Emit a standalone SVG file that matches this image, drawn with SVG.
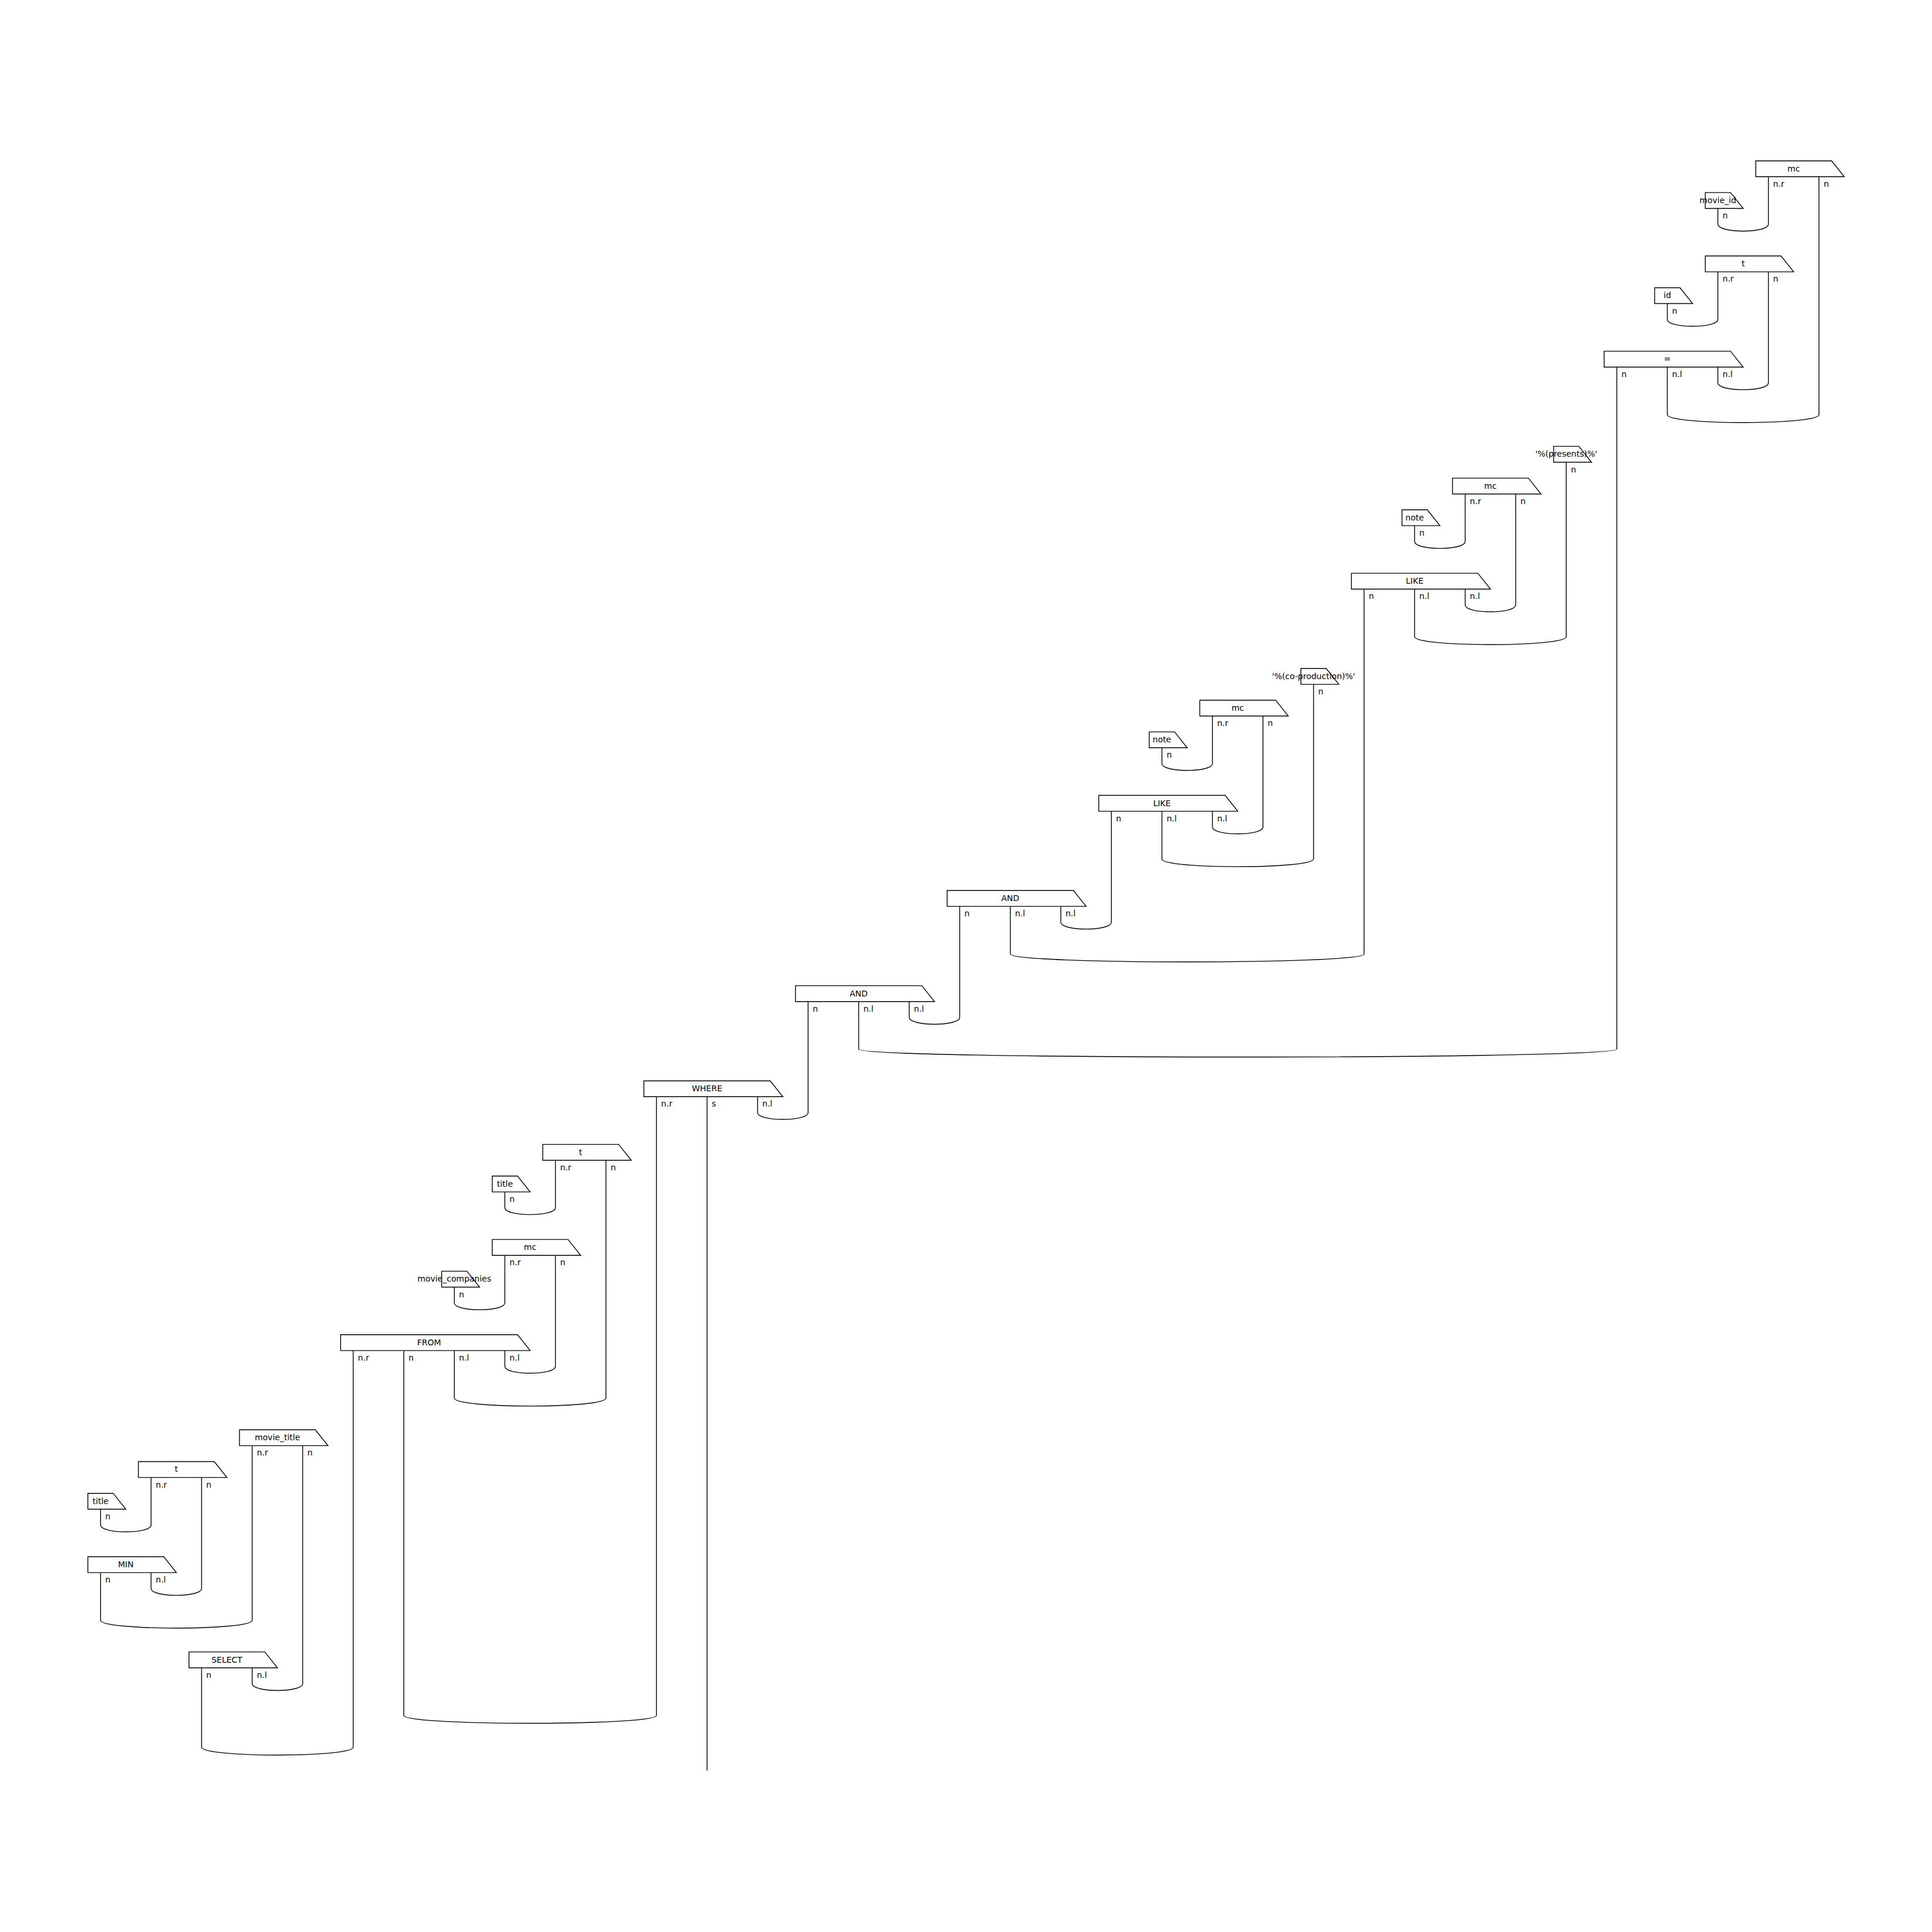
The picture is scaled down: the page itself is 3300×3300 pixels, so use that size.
<svg xmlns="http://www.w3.org/2000/svg" width="3300" height="3300" viewBox="0 0 3300 3300">
<style>
.bx{fill:#fff;stroke:#000;stroke-width:1.4}
.lbl{font-family:"DejaVu Sans",sans-serif;font-size:14px;text-anchor:middle;fill:#000}
.w{font-family:"DejaVu Sans",sans-serif;font-size:14px;fill:#000}
#wires path{fill:none;stroke:#000;stroke-width:1.4}
</style>
<defs>
<polygon id="b1" class="bx" points="-21.6,0 21.6,0 43.2,27.1 -21.6,27.1"/>
<polygon id="b2" class="bx" points="-21.6,0 107.93,0 129.53,27.1 -21.6,27.1"/>
<polygon id="b3" class="bx" points="-21.6,0 194.26,0 215.86,27.1 -21.6,27.1"/>
<polygon id="b4" class="bx" points="-21.6,0 280.59,0 302.19,27.1 -21.6,27.1"/>
</defs>
<rect width="3300" height="3300" fill="#fff"/>
<g id="wires">
<path d="M2934.26 355.99 V383.08 C2934.26 398.58 3020.59 398.58 3020.59 383.08 V301.80"/>
<path d="M2847.93 518.56 V545.65 C2847.93 561.15 2934.26 561.15 2934.26 545.65 V464.37"/>
<path d="M2934.26 626.94 V654.03 C2934.26 669.53 3020.59 669.53 3020.59 654.03 V464.37"/>
<path d="M2847.93 626.94 V708.22 C2847.93 726.22 3106.92 726.22 3106.92 708.22 V301.80"/>
<path d="M2416.28 897.89 V924.98 C2416.28 940.48 2502.61 940.48 2502.61 924.98 V843.70"/>
<path d="M2502.61 1006.27 V1033.36 C2502.61 1048.86 2588.94 1048.86 2588.94 1033.36 V843.70"/>
<path d="M2416.28 1006.27 V1087.55 C2416.28 1105.55 2675.27 1105.55 2675.27 1087.55 V789.51"/>
<path d="M1984.63 1277.22 V1304.31 C1984.63 1319.81 2070.96 1319.81 2070.96 1304.31 V1223.03"/>
<path d="M2070.96 1385.60 V1412.69 C2070.96 1428.19 2157.29 1428.19 2157.29 1412.69 V1223.03"/>
<path d="M1984.63 1385.60 V1466.88 C1984.63 1484.88 2243.62 1484.88 2243.62 1466.88 V1168.84"/>
<path d="M1811.97 1548.17 V1575.26 C1811.97 1590.76 1898.30 1590.76 1898.30 1575.26 V1385.60"/>
<path d="M1725.64 1548.17 V1629.45 C1725.64 1647.45 2329.95 1647.45 2329.95 1629.45 V1006.27"/>
<path d="M1552.98 1710.74 V1737.83 C1552.98 1753.33 1639.31 1753.33 1639.31 1737.83 V1548.17"/>
<path d="M1466.65 1710.74 V1792.02 C1466.65 1810.02 2761.60 1810.02 2761.60 1792.02 V626.94"/>
<path d="M1293.99 1873.31 V1900.40 C1293.99 1915.90 1380.32 1915.90 1380.32 1900.40 V1710.74"/>
<path d="M862.34 2035.88 V2062.97 C862.34 2078.47 948.67 2078.47 948.67 2062.97 V1981.69"/>
<path d="M776.01 2198.45 V2225.54 C776.01 2241.04 862.34 2241.04 862.34 2225.54 V2144.26"/>
<path d="M862.34 2306.83 V2333.92 C862.34 2349.42 948.67 2349.42 948.67 2333.92 V2144.26"/>
<path d="M776.01 2306.83 V2388.11 C776.01 2406.11 1035.00 2406.11 1035.00 2388.11 V1981.69"/>
<path d="M171.70 2577.78 V2604.87 C171.70 2620.37 258.03 2620.37 258.03 2604.87 V2523.59"/>
<path d="M258.03 2686.16 V2713.25 C258.03 2728.75 344.36 2728.75 344.36 2713.25 V2523.59"/>
<path d="M171.70 2686.16 V2767.44 C171.70 2785.44 430.69 2785.44 430.69 2767.44 V2469.40"/>
<path d="M430.69 2848.73 V2875.82 C430.69 2891.32 517.02 2891.32 517.02 2875.82 V2469.40"/>
<path d="M689.68 2306.83 V2930.01 C689.68 2948.01 1121.33 2948.01 1121.33 2930.01 V1873.31"/>
<path d="M344.36 2848.73 V2984.20 C344.36 3002.20 603.35 3002.20 603.35 2984.20 V2306.83"/>
<path d="M1207.66 1873.31 V3024.30"/>
</g>
<g id="node-mc1" transform="translate(3020.59,274.70)"><use href="#b2"/><text class="lbl" x="43.17" y="18">mc</text><text class="w" x="8" y="44.2">n.r</text><text class="w" x="94.33" y="44.2">n</text></g>
<g id="node-movie_id" transform="translate(2934.26,328.89)"><use href="#b1"/><text class="lbl" x="0" y="18">movie_id</text><text class="w" x="8" y="44.2">n</text></g>
<g id="node-t1" transform="translate(2934.26,437.27)"><use href="#b2"/><text class="lbl" x="43.17" y="18">t</text><text class="w" x="8" y="44.2">n.r</text><text class="w" x="94.33" y="44.2">n</text></g>
<g id="node-id" transform="translate(2847.93,491.46)"><use href="#b1"/><text class="lbl" x="0" y="18">id</text><text class="w" x="8" y="44.2">n</text></g>
<g id="node-eq" transform="translate(2761.60,599.84)"><use href="#b3"/><text class="lbl" x="86.33" y="18">=</text><text class="w" x="8" y="44.2">n</text><text class="w" x="94.33" y="44.2">n.l</text><text class="w" x="180.66" y="44.2">n.l</text></g>
<g id="node-presents" transform="translate(2675.27,762.41)"><use href="#b1"/><text class="lbl" x="0" y="18">'%(presents)%'</text><text class="w" x="8" y="44.2">n</text></g>
<g id="node-mc2" transform="translate(2502.61,816.60)"><use href="#b2"/><text class="lbl" x="43.17" y="18">mc</text><text class="w" x="8" y="44.2">n.r</text><text class="w" x="94.33" y="44.2">n</text></g>
<g id="node-note1" transform="translate(2416.28,870.79)"><use href="#b1"/><text class="lbl" x="0" y="18">note</text><text class="w" x="8" y="44.2">n</text></g>
<g id="node-like1" transform="translate(2329.95,979.17)"><use href="#b3"/><text class="lbl" x="86.33" y="18">LIKE</text><text class="w" x="8" y="44.2">n</text><text class="w" x="94.33" y="44.2">n.l</text><text class="w" x="180.66" y="44.2">n.l</text></g>
<g id="node-coprod" transform="translate(2243.62,1141.74)"><use href="#b1"/><text class="lbl" x="0" y="18">'%(co-production)%'</text><text class="w" x="8" y="44.2">n</text></g>
<g id="node-mc3" transform="translate(2070.96,1195.93)"><use href="#b2"/><text class="lbl" x="43.17" y="18">mc</text><text class="w" x="8" y="44.2">n.r</text><text class="w" x="94.33" y="44.2">n</text></g>
<g id="node-note2" transform="translate(1984.63,1250.12)"><use href="#b1"/><text class="lbl" x="0" y="18">note</text><text class="w" x="8" y="44.2">n</text></g>
<g id="node-like2" transform="translate(1898.30,1358.50)"><use href="#b3"/><text class="lbl" x="86.33" y="18">LIKE</text><text class="w" x="8" y="44.2">n</text><text class="w" x="94.33" y="44.2">n.l</text><text class="w" x="180.66" y="44.2">n.l</text></g>
<g id="node-and1" transform="translate(1639.31,1521.07)"><use href="#b3"/><text class="lbl" x="86.33" y="18">AND</text><text class="w" x="8" y="44.2">n</text><text class="w" x="94.33" y="44.2">n.l</text><text class="w" x="180.66" y="44.2">n.l</text></g>
<g id="node-and2" transform="translate(1380.32,1683.64)"><use href="#b3"/><text class="lbl" x="86.33" y="18">AND</text><text class="w" x="8" y="44.2">n</text><text class="w" x="94.33" y="44.2">n.l</text><text class="w" x="180.66" y="44.2">n.l</text></g>
<g id="node-where" transform="translate(1121.33,1846.21)"><use href="#b3"/><text class="lbl" x="86.33" y="18">WHERE</text><text class="w" x="8" y="44.2">n.r</text><text class="w" x="94.33" y="44.2">s</text><text class="w" x="180.66" y="44.2">n.l</text></g>
<g id="node-t2" transform="translate(948.67,1954.59)"><use href="#b2"/><text class="lbl" x="43.17" y="18">t</text><text class="w" x="8" y="44.2">n.r</text><text class="w" x="94.33" y="44.2">n</text></g>
<g id="node-title1" transform="translate(862.34,2008.78)"><use href="#b1"/><text class="lbl" x="0" y="18">title</text><text class="w" x="8" y="44.2">n</text></g>
<g id="node-mc4" transform="translate(862.34,2117.16)"><use href="#b2"/><text class="lbl" x="43.17" y="18">mc</text><text class="w" x="8" y="44.2">n.r</text><text class="w" x="94.33" y="44.2">n</text></g>
<g id="node-movie_companies" transform="translate(776.01,2171.35)"><use href="#b1"/><text class="lbl" x="0" y="18">movie_companies</text><text class="w" x="8" y="44.2">n</text></g>
<g id="node-from" transform="translate(603.35,2279.73)"><use href="#b4"/><text class="lbl" x="129.5" y="18">FROM</text><text class="w" x="8" y="44.2">n.r</text><text class="w" x="94.33" y="44.2">n</text><text class="w" x="180.66" y="44.2">n.l</text><text class="w" x="266.99" y="44.2">n.l</text></g>
<g id="node-movie_title" transform="translate(430.69,2442.30)"><use href="#b2"/><text class="lbl" x="43.17" y="18">movie_title</text><text class="w" x="8" y="44.2">n.r</text><text class="w" x="94.33" y="44.2">n</text></g>
<g id="node-t3" transform="translate(258.03,2496.49)"><use href="#b2"/><text class="lbl" x="43.17" y="18">t</text><text class="w" x="8" y="44.2">n.r</text><text class="w" x="94.33" y="44.2">n</text></g>
<g id="node-title2" transform="translate(171.70,2550.68)"><use href="#b1"/><text class="lbl" x="0" y="18">title</text><text class="w" x="8" y="44.2">n</text></g>
<g id="node-min" transform="translate(171.70,2659.06)"><use href="#b2"/><text class="lbl" x="43.17" y="18">MIN</text><text class="w" x="8" y="44.2">n</text><text class="w" x="94.33" y="44.2">n.l</text></g>
<g id="node-select" transform="translate(344.36,2821.63)"><use href="#b2"/><text class="lbl" x="43.17" y="18">SELECT</text><text class="w" x="8" y="44.2">n</text><text class="w" x="94.33" y="44.2">n.l</text></g>
</svg>
